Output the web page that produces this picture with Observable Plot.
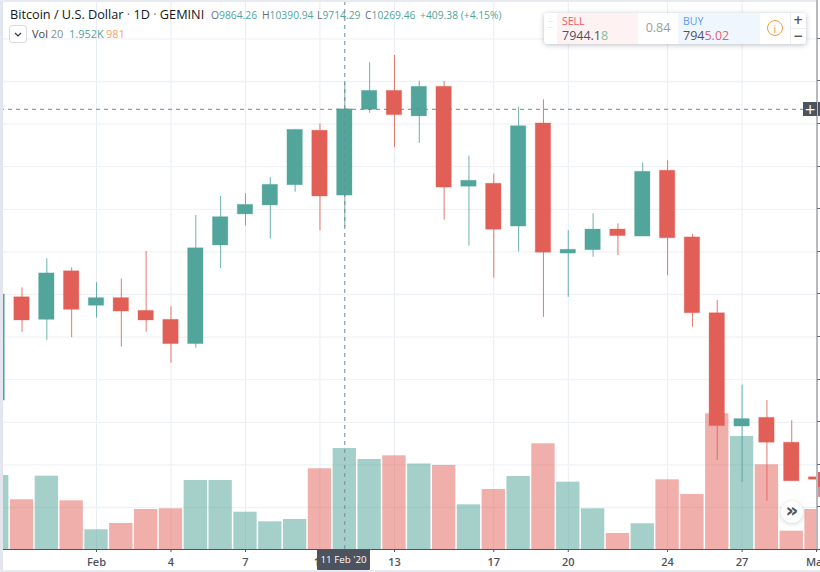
<!DOCTYPE html>
<html>
<head>
<meta charset="utf-8">
<script src="https://cdn.jsdelivr.net/npm/d3@7"></script>
<script src="https://cdn.jsdelivr.net/npm/@observablehq/plot@0.6"></script>
<style>
html,body{margin:0;padding:0;background:#fff;overflow:hidden}
#wrap{position:relative;width:820px;height:572px;overflow:hidden;font-family:"Open Sans",sans-serif;color:#131722}
#wrap svg{display:block}
.abs{position:absolute;white-space:nowrap}
</style>
</head>
<body>
<div id="wrap"></div>
<script>
const dates = ["2020-01-28","2020-01-29","2020-01-30","2020-01-31","2020-02-01","2020-02-02","2020-02-03","2020-02-04","2020-02-05","2020-02-06","2020-02-07","2020-02-08","2020-02-09","2020-02-10","2020-02-11","2020-02-12","2020-02-13","2020-02-14","2020-02-15","2020-02-16","2020-02-17","2020-02-18","2020-02-19","2020-02-20","2020-02-21","2020-02-22","2020-02-23","2020-02-24","2020-02-25","2020-02-26","2020-02-27","2020-02-28","2020-02-29","2020-03-01"];
const opens  = [8902,9387,9281,9509,9347,9383,9323,9281,9167,9630,9776,9818,9913,10169,9864.26,10267,10356,10236,10375,9906,9920,9719,10203,9592,9608,9705,9672,9981,9668,9312,8780,8821,8704,8542];
const highs  = [9400,9431,9568,9525,9456,9472,9602,9342,9771,9860,9873,9949,10173,10201,10390.94,10488,10522,10401,10400,10049,9965,10279,10314,9700,9779,9732,10018,10028,9682,9372,8974,8902,8807,8757];
const lows   = [8902,9223,9185,9197,9289,9153,9223,9077,9148,9522,9721,9660,9880,9699,9714.29,10251,10089,10109,9749,9627,9477,9599,9293,9387,9575,9583,9672,9488,9246,8621,8517,8429,8523,8413];
const closes = [9400,9278,9499,9328,9383,9320,9278,9167,9617,9763,9821,9915,10173,9860,10269.46,10356,10242,10375,9902,9934,9704,10190,9596,9610,9705,9674,9976,9664,9312,8782,8815,8704,8523,8530];
const volumes = [1430,961,1417,941,381,503,773,787,1334,1334,721,535,580,1560,1952,1740,1811,1653,1624,864,1160,1411,2043,1301,787,309,497,1347,1063,2623,2184,1637,354,773];
const tickDates  = ["2020-02-01","2020-02-04","2020-02-07","2020-02-10","2020-02-13","2020-02-17","2020-02-20","2020-02-24","2020-02-27","2020-03-01"];
const tickLabels = ["Feb","4","7","10","13","17","20","24","27","Mar"];
const gridPrices = [10600,10400,10200,10000,9800,9600,9400,9200,9000,8800,8600,8400];
const selectedDate = "2020-02-11";
const selectedClose = 10269.46;

const DAY = 864e5;
const UP = "#52a59a", DOWN = "#e15f56";
const priceBase = 8202.7, priceTop = 10780.3;
const volToPrice = 0.2429;
const bars = dates.map((d,i)=>({date:new Date(d),open:opens[i],high:highs[i],low:lows[i],close:closes[i],volume:volumes[i],up:closes[i]>=opens[i]}));
const t0 = +new Date("2020-02-01");
const xStart = new Date(t0 - 3.866*DAY), xEnd = new Date(t0 + 29.158*DAY);
const tickD = tickDates.map(d=>new Date(d));
const labelOf = d => tickLabels[tickD.findIndex(t=>+t===+d)];
const off = (d,k)=>new Date(+d.date + k*DAY);

const chart = Plot.plot({
  width:820, height:572,
  marginLeft:0, marginRight:0, marginTop:0, marginBottom:23,
  style:{background:"transparent",fontFamily:'"Open Sans",sans-serif'},
  x:{type:"utc",domain:[xStart,xEnd]},
  y:{domain:[priceBase,priceTop],axis:null},
  marks:[
    Plot.ruleX(tickD,{stroke:"#e8edf2",strokeWidth:1}),
    Plot.ruleY(gridPrices,{stroke:"#eff2f6",strokeWidth:1.3}),
    Plot.rect(bars,{x1:d=>off(d,-0.47),x2:d=>off(d,0.47),y1:priceBase,y2:d=>priceBase+d.volume*volToPrice,fill:d=>d.up?UP:DOWN,fillOpacity:d=>d.up?0.52:0.5}),
    Plot.ruleX(bars,{x:"date",y1:"low",y2:"high",stroke:d=>d.up?UP:DOWN,strokeWidth:1,strokeOpacity:0.85}),
    Plot.rect(bars,{x1:d=>off(d,-0.31),x2:d=>off(d,0.31),y1:"open",y2:"close",fill:d=>d.up?UP:DOWN,stroke:d=>d.up?UP:DOWN,strokeOpacity:0.3,strokeWidth:1}),
    Plot.ruleX([new Date(selectedDate)],{y1:priceBase,y2:priceTop,stroke:"#758696",strokeDasharray:"4 4",strokeWidth:1}),
    Plot.ruleY([selectedClose],{stroke:"#758696",strokeDasharray:"4 4",strokeWidth:1}),
    Plot.ruleY([priceBase],{stroke:"#50535e",strokeWidth:1}),
    Plot.axisX({anchor:"bottom",ticks:tickD,tickFormat:labelOf,tickSize:3,tickPadding:6,stroke:"#50535e",fill:"#50535e",fontSize:11,fontWeight:600,label:null})
  ]
});

const wrap = document.getElementById("wrap");
wrap.appendChild(chart);
const add = (css,html="")=>{const e=document.createElement("div");e.className="abs";e.style.cssText=css;e.innerHTML=html;wrap.appendChild(e);return e;};
const yS = chart.scale("y");

// frame and right-hand price scale edge
add("left:0;top:0;width:3px;height:572px;background:#e3e6ee");
add("left:0;top:0;width:820px;height:2px;background:#e7eaf0");
add("left:0;top:570px;width:820px;height:2px;background:#e7eaf0");
add("left:816.5px;top:0;width:3.5px;height:549px;background:#fff");
add("left:816px;top:0;width:1.5px;height:549px;background:#b6b9c2");
gridPrices.forEach(p=>add(`left:817px;top:${yS.apply(p)-0.5}px;width:3px;height:1px;background:#6b6f7a`));
add("left:818px;top:472px;width:2px;height:15px;background:#e15f56");
add("left:818px;top:487px;width:2px;height:10px;background:#c79a98");

// crosshair labels
add("left:803px;top:102px;width:14px;height:14px;background:#4c525e;color:#fff;font:14px/14px 'DejaVu Sans';text-align:center","+");
add("left:818px;top:102px;width:2px;height:14px;background:#4c525e");
add("left:317px;top:549px;width:53px;height:21px;background:#4c525e;border-radius:1px;color:#fff;font-size:9.8px;line-height:22px;text-align:center","11 Feb '20");

// legend
add("left:10px;top:5px;font-size:12.7px;line-height:18px;color:#131722","Bitcoin / U.S. Dollar <span style='color:#777'>·</span> 1D <span style='color:#777'>·</span> GEMINI");
const g = UP, lab = "#6a6d78";
[["O","9864.26",211],["H","10390.94",262],["L","9714.29",317],["C","10269.46",365]].forEach(([k,v,x])=>
  add(`left:${x}px;top:7px;font-size:10.3px;line-height:17px;color:${g}`,`<span style="color:${lab}">${k}</span>${v}`));
add(`left:420px;top:7px;font-size:10.3px;line-height:17px;color:${g}`,"+409.38 (+4.15%)");
add("left:9px;top:25px;width:16px;height:16px;border:1px solid #d9dbe2;border-radius:3px;background:#fff","<svg width='16' height='16'><path d='M5 7l3 3 3-3' fill='none' stroke='#333' stroke-width='1.2'/></svg>");
add("left:32px;top:25px;font-size:11px;line-height:17px;color:#8a8d96","<span style='color:#444'>Vol</span> 20");
add("left:69px;top:25px;font-size:11px;line-height:17px;color:#52a59a","1.952K");
add("left:106px;top:25px;font-size:11px;line-height:17px;color:#f5a56b","981");

// trading widget
add("left:544px;top:13px;width:262px;height:31px;background:#fff;border-radius:3px;box-shadow:0 1px 5px rgba(60,70,90,.35)",`
 <div class="abs" style="left:13px;top:0;width:81px;height:31px;background:#fff2f3"></div>
 <div class="abs" style="left:134px;top:0;width:82px;height:31px;background:#f0f6fe"></div>
 <div class="abs" style="left:4px;top:10px;width:5px;height:10px;font:8px/5px 'DejaVu Sans';color:#ccc">⁚⁚</div>
 <div class="abs" style="left:18px;top:2px;font-size:10.5px;line-height:13px;color:#f7525f">SELL</div>
 <div class="abs" style="left:18px;top:16px;font-size:12.5px;line-height:14px;color:#50535e">7944.1<span style="color:#7cc4a4">8</span></div>
 <div class="abs" style="left:94px;top:7px;width:40px;text-align:center;font-size:12.5px;line-height:16px;color:#9a9da5">0.84</div>
 <div class="abs" style="left:139px;top:2px;font-size:10.5px;line-height:13px;color:#5a9cf0">BUY</div>
 <div class="abs" style="left:139px;top:16px;font-size:12.5px;line-height:14px;color:#50535e">794<span style="color:#ee5a6a">5.02</span></div>
 <div class="abs" style="left:223px;top:7px;width:14px;height:14px;border:1.5px solid #ef9d3c;border-radius:50%;text-align:center;font-size:11px;line-height:15px;color:#ef9d3c">i</div>
 <div class="abs" style="left:246px;top:0;width:1px;height:31px;background:#eceef2"></div>
 <div class="abs" style="left:246px;top:15px;width:16px;height:1px;background:#eceef2"></div>
 <div class="abs" style="left:246px;top:0;width:16px;text-align:center;font:bold 12px/15px 'DejaVu Sans';color:#555">+</div>
 <div class="abs" style="left:246px;top:16px;width:16px;text-align:center;font:bold 12px/15px 'DejaVu Sans';color:#555">−</div>`);

// scroll button
add("left:781px;top:501px;width:22px;height:22px;border-radius:50%;background:#fff;box-shadow:0 1px 4px rgba(60,70,90,.25);text-align:center;font:bold 20px/18px 'DejaVu Sans';color:#50535e","»");
</script>
</body>
</html>
